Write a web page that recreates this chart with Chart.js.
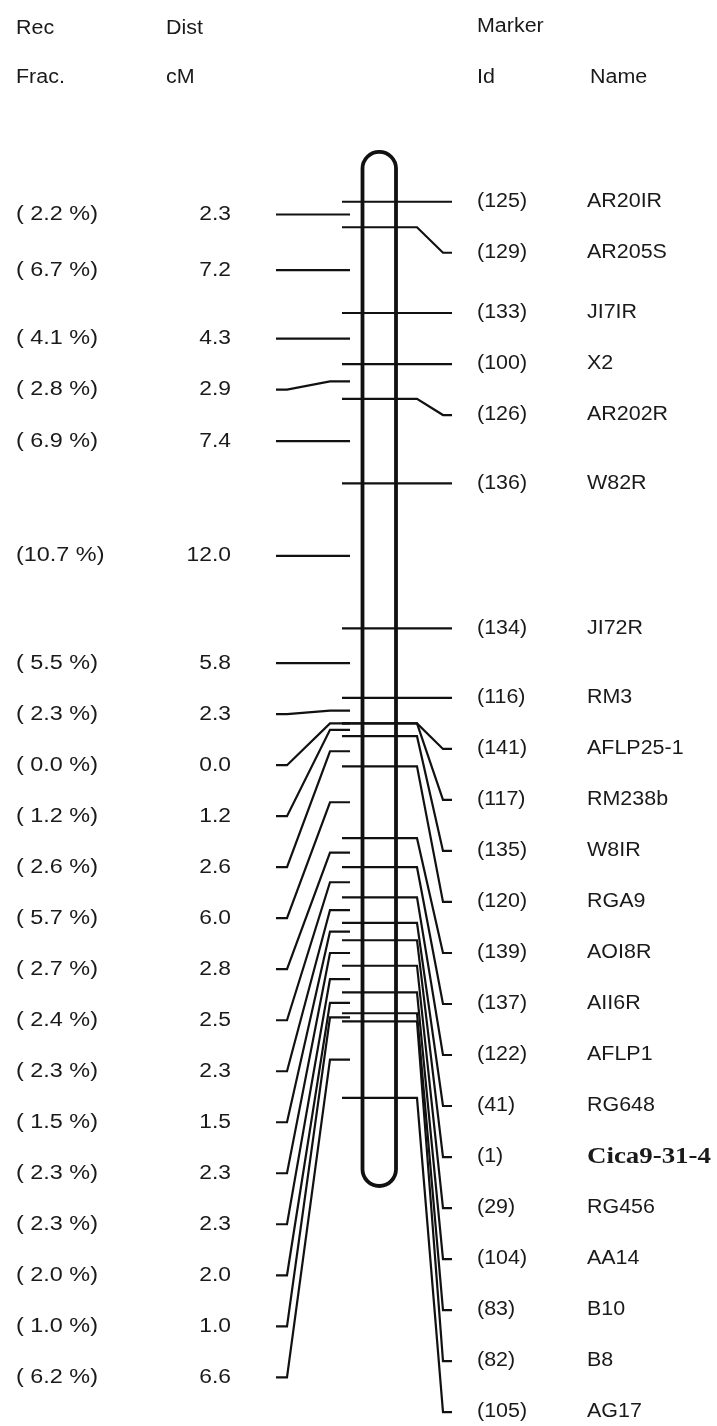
<!DOCTYPE html>
<html>
<head>
<meta charset="utf-8">
<script src="https://cdn.jsdelivr.net/npm/chart.js@4"></script>
<style>
  html, body { margin: 0; padding: 0; background: #fff; }
  canvas { display: block; }
</style>
</head>
<body>
<canvas id="myChart" width="717" height="1426"></canvas>
<script>
// marker data, top to bottom
var markerIds = [125, 129, 133, 100, 126, 136, 134, 116, 141, 117, 135, 120, 139, 137, 122, 41, 1, 29, 104, 83, 82, 105];
var markerNames = ['AR20IR', 'AR205S', 'JI7IR', 'X2', 'AR202R', 'W82R', 'JI72R', 'RM3', 'AFLP25-1', 'RM238b', 'W8IR',
    'RGA9', 'AOI8R', 'AII6R', 'AFLP1', 'RG648', 'Cica9-31-4', 'RG456', 'AA14', 'B10', 'B8', 'AG17'];
// marker positions on the chromosome (cM)
var markerPos = [0, 2.2, 9.6, 14.0, 17.0, 24.3, 36.8, 42.8, 45.0, 45.0, 46.1, 48.7, 54.9, 57.4, 60.0, 62.2, 63.7, 65.9, 68.2, 70.0, 70.7, 77.3];
// intervals between neighbouring markers
var recFrac = [2.2, 6.7, 4.1, 2.8, 6.9, 10.7, 5.5, 2.3, 0.0, 1.2, 2.6, 5.7, 2.7, 2.4, 2.3, 1.5, 2.3, 2.3, 2.0, 1.0, 6.2];
var distCM = [2.3, 7.2, 4.3, 2.9, 7.4, 12.0, 5.8, 2.3, 0.0, 1.2, 2.6, 6.0, 2.8, 2.5, 2.3, 1.5, 2.3, 2.3, 2.0, 1.0, 6.6];
var boldMarker = 'Cica9-31-4';

var chromStart = -4.3, chromEnd = 84.9;   // chromosome ends, cM
var labelGap = 4.4;                       // minimum label spacing, cM

function spreadLabels(targets) {
    var out = [];
    for (var i = 0; i < targets.length; i++) {
        out.push(i == 0 ? targets[i] : Math.max(targets[i], out[i - 1] + labelGap));
    }
    return out;
}

var mids = [];
for (var i = 0; i < markerPos.length - 1; i++) {
    mids.push((markerPos[i] + markerPos[i + 1]) / 2);
}
var markerLab = spreadLabels(markerPos);
var intervalLab = spreadLabels(mids);

var datasets = [];
markerPos.forEach(function (p, i) {
    datasets.push({
        data: [{x: 342, y: p}, {x: 417, y: p}, {x: 443, y: markerLab[i]}, {x: 452, y: markerLab[i]}]
    });
});
mids.forEach(function (m, i) {
    datasets.push({
        data: [{x: 350, y: m}, {x: 330, y: m}, {x: 287, y: intervalLab[i]}, {x: 276, y: intervalLab[i]}]
    });
});
datasets.forEach(function (d) {
    d.showLine = true;
    d.borderColor = '#111';
    d.borderWidth = 2.2;
    d.pointRadius = 0;
    d.fill = false;
    d.tension = 0;
});

function drawText(ctx, str, x, y, font, align, sx) {
    ctx.save();
    ctx.translate(x, y);
    ctx.scale(sx || 1.1, 1);
    ctx.font = font;
    ctx.textAlign = align || 'left';
    ctx.textBaseline = 'middle';
    ctx.fillStyle = '#1a1a1a';
    ctx.fillText(str, 0, 0);
    ctx.restore();
}

var mapPlugin = {
    id: 'mapPlugin',
    afterDatasetsDraw: function (chart) {
        var ctx = chart.ctx;
        var y = chart.scales.y;
        var x = chart.scales.x;
        var left = x.getPixelForValue(362.5), right = x.getPixelForValue(396);
        var r = (right - left) / 2, cx = left + r;
        var top = y.getPixelForValue(chromStart), bottom = y.getPixelForValue(chromEnd);
        ctx.save();
        ctx.strokeStyle = '#111';
        ctx.lineWidth = 3.8;
        ctx.beginPath();
        ctx.moveTo(left, bottom - r);
        ctx.lineTo(left, top + r);
        ctx.arc(cx, top + r, r, Math.PI, 0);
        ctx.lineTo(right, bottom - r);
        ctx.arc(cx, bottom - r, r, 0, Math.PI);
        ctx.stroke();
        ctx.restore();

        var font = '19.5px "Liberation Sans", Arial, sans-serif';
        drawText(ctx, 'Rec', 16, 29, font);
        drawText(ctx, 'Frac.', 16, 78, font);
        drawText(ctx, 'Dist', 166, 29, font);
        drawText(ctx, 'cM', 166, 78, font);
        drawText(ctx, 'Marker', 477, 27, font);
        drawText(ctx, 'Id', 477, 78, font);
        drawText(ctx, 'Name', 590, 78, font);

        intervalLab.forEach(function (v, i) {
            var py = y.getPixelForValue(v);
            var f = recFrac[i].toFixed(1);
            var s = recFrac[i] < 10 ? '( ' + f + ' %)' : '(' + f + ' %)';
            drawText(ctx, s, 16, py, font, 'left', 1.2);
            drawText(ctx, distCM[i].toFixed(1), 231, py, font, 'right', 1.17);
        });
        markerLab.forEach(function (v, i) {
            var py = y.getPixelForValue(v);
            drawText(ctx, '(' + markerIds[i] + ')', 477, py, font);
            if (markerNames[i] == boldMarker) {
                drawText(ctx, markerNames[i], 587, py, 'bold 24px "Liberation Serif", "Times New Roman", serif', 'left', 1.12);
            } else {
                drawText(ctx, markerNames[i], 587, py, font);
            }
        });
    }
};

var ctx = document.getElementById('myChart').getContext('2d');
var myChart = new Chart(ctx, {
    type: 'scatter',
    data: { datasets: datasets },
    options: {
        responsive: false,
        animation: false,
        layout: { padding: 0 },
        scales: {
            x: { type: 'linear', min: 0, max: 717, display: false },
            y: { type: 'linear', min: -17.4, max: 105.6, reverse: true, display: false }
        },
        plugins: {
            legend: { display: false },
            tooltip: { enabled: false }
        }
    },
    plugins: [mapPlugin]
});
</script>
</body>
</html>
